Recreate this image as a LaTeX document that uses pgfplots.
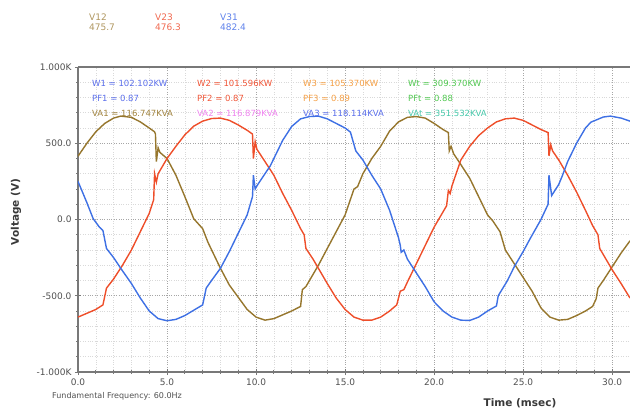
\documentclass[border=0pt]{standalone}
\usepackage{pgfplots}
\pgfplotsset{compat=1.18}
\usepackage{fontspec}
\setmainfont{DejaVu Sans}
\definecolor{cbrown}{RGB}{150,118,45}
\definecolor{cred}{RGB}{238,78,42}
\definecolor{cblue}{RGB}{62,112,228}
\definecolor{hbrown}{RGB}{175,150,95}
\definecolor{hred}{RGB}{240,105,80}
\definecolor{hblue}{RGB}{95,130,235}
\definecolor{lblue}{RGB}{90,110,235}
\definecolor{lred}{RGB}{240,85,55}
\definecolor{lorange}{RGB}{245,160,70}
\definecolor{lgreen}{RGB}{80,200,80}
\definecolor{lbrown}{RGB}{160,130,60}
\definecolor{lpink}{RGB}{240,130,240}
\definecolor{lteal}{RGB}{70,200,170}
\definecolor{axgray}{RGB}{120,120,120}
\definecolor{txgray}{RGB}{80,80,80}
\begin{document}
\begin{tikzpicture}
\useasboundingbox (-78bp,-39bp) rectangle (552bp,372bp);
\begin{axis}[
  at={(0,0)}, anchor=south west,
  scale only axis, width=552bp, height=305bp,
  xmin=0, xmax=31.0, ymin=-1000, ymax=1000,
  axis x line*=box, axis y line*=left,
  axis line style={axgray, line width=1.2bp},
  xtick={0,5,10,15,20,25,30},
  xticklabels={0.0,5.0,10.0,15.0,20.0,25.0,30.0},
  ytick={-1000,-500,0,500,1000},
  yticklabels={-1.000K,-500.0,0.0,500.0,1.000K},
  minor x tick num=4, minor y tick num=4,
  xtick pos=bottom, ytick pos=left,
  tick align=center,
  major tick length=6bp, minor tick length=3bp,
  every tick/.style={axgray, line width=0.8bp},
  grid=both,
  major grid style={dotted, gray!70, line width=0.6bp},
  minor grid style={dotted, gray!30, line width=0.5bp},
  tick label style={font=\fontsize{9bp}{11bp}\selectfont, text=txgray},
  /pgf/number format/assume math mode=true,
  clip=true,
]
\addplot[cbrown, line width=1.4bp] coordinates {
(0,415) (0.5,500) (1.0,575) (1.5,630) (2.0,665) (2.4,678) (3.0,670) (3.5,640)
(4.0,600) (4.3,575) (4.35,560) (4.4,380) (4.5,470) (4.6,440) (5.0,400) (5.5,290)
(6.0,150) (6.5,5) (7.0,-60) (7.3,-150) (8.0,-320) (8.5,-430) (9.0,-510) (9.5,-590)
(10.0,-640) (10.5,-660) (11.0,-650) (11.5,-625) (12.0,-600) (12.5,-570) (12.6,-460)
(12.8,-440) (13.0,-400) (13.5,-300) (14.0,-190) (14.5,-80) (15.0,30) (15.5,200)
(15.7,215) (16.0,300) (16.5,400) (17.0,480) (17.5,580) (18.0,640) (18.5,670)
(19.0,675) (19.5,665) (20.0,630) (20.5,590) (20.8,570) (20.85,450) (20.95,480)
(21.1,430) (21.5,360) (22.0,270) (22.5,150) (23.0,30) (23.3,-10) (23.7,-80)
(24.0,-200) (24.5,-290) (25.0,-380) (25.5,-470) (26.0,-580) (26.5,-640) (27.0,-660)
(27.5,-655) (28.0,-630) (28.5,-600) (28.9,-570) (29.1,-520) (29.2,-450) (29.5,-400)
(30.0,-310) (30.5,-220) (31.0,-140)
};
\addplot[cred, line width=1.4bp] coordinates {
(0,-640) (0.5,-615) (1.0,-590) (1.4,-560) (1.6,-450) (2.0,-390) (2.5,-300) (3.0,-200)
(3.5,-80) (4.0,40) (4.25,130) (4.3,300) (4.4,245) (4.5,300) (5.0,400) (5.5,480)
(6.0,555) (6.5,612) (7.0,645) (7.5,662) (8.0,665) (8.5,650) (9.0,620) (9.5,585)
(9.8,560) (9.85,400) (9.95,510) (10.05,460) (10.5,380) (11.0,290) (11.5,170)
(12.0,60) (12.5,-60) (12.7,-100) (12.8,-190) (13.2,-260) (13.5,-320) (14.0,-420)
(14.5,-515) (15.0,-590) (15.5,-640) (16.0,-660) (16.5,-660) (17.0,-640) (17.5,-600)
(17.9,-560) (18.1,-470) (18.3,-460) (18.5,-410) (19.0,-290) (19.5,-170) (20.0,-50)
(20.3,10) (20.7,90) (20.8,190) (20.9,170) (21.0,220) (21.5,390) (22.0,480)
(22.5,550) (23.0,600) (23.5,640) (24.0,660) (24.5,665) (25.0,650) (25.5,620)
(26.0,590) (26.4,570) (26.45,417) (26.55,490) (26.65,450) (27.0,390) (27.5,290)
(28.0,180) (28.5,60) (28.9,-40) (29.2,-100) (29.3,-190) (29.7,-270) (30.0,-330)
(30.5,-420) (31.0,-515)
};
\addplot[cblue, line width=1.4bp] coordinates {
(0,250) (0.5,110) (0.85,6) (1.2,-50) (1.4,-72) (1.6,-190) (2.0,-250) (2.4,-320)
(3.0,-420) (3.5,-515) (4.0,-600) (4.5,-650) (5.0,-664) (5.5,-655) (6.0,-630)
(6.5,-595) (7.0,-560) (7.2,-450) (7.5,-400) (8.0,-320) (8.5,-210) (9.0,-90)
(9.5,30) (9.8,150) (9.85,290) (9.95,200) (10.1,230) (10.5,300) (10.8,352)
(11.0,400) (11.5,520) (12.0,610) (12.5,660) (13.0,675) (13.5,678) (14.0,660)
(14.5,630) (15.0,600) (15.3,573) (15.6,450) (16.0,390) (16.5,290) (17.0,200)
(17.5,60) (18.0,-120) (18.1,-170) (18.15,-215) (18.3,-200) (18.5,-260) (19.0,-350)
(19.5,-440) (20.0,-540) (20.5,-600) (21.0,-640) (21.5,-660) (22.0,-662) (22.5,-640)
(23.0,-600) (23.5,-567) (23.6,-500) (24.1,-404) (24.5,-310) (25.0,-210) (25.4,-124)
(26.0,0) (26.4,100) (26.45,290) (26.6,157) (27.0,230) (27.2,287) (27.5,380)
(28.0,500) (28.5,600) (28.8,638) (29.5,672) (29.9,678) (30.5,665) (31.0,645)
};
\end{axis}
% header readings
\begin{scope}[every node/.style={font=\fontsize{9bp}{11bp}\selectfont, inner sep=0pt, anchor=base west}]
\node[text=hbrown] at (11bp,351bp) {V12};
\node[text=hbrown] at (11bp,341bp) {475.7};
\node[text=hred] at (77bp,351bp) {V23};
\node[text=hred] at (77bp,341bp) {476.3};
\node[text=hblue] at (142bp,351bp) {V31};
\node[text=hblue] at (142bp,341bp) {482.4};
\end{scope}
% in-plot readings
\begin{scope}[every node/.style={font=\fontsize{8.5bp}{10bp}\selectfont, inner sep=0pt, anchor=west}]
\node[text=lblue] at (14bp,289bp) {W1 = 102.102KW};
\node[text=lblue] at (14bp,274bp) {PF1 = 0.87};
\node[text=lbrown] at (14bp,259bp) {VA1 = 116.747KVA};
\node[text=lred] at (119bp,289bp) {W2 = 101.596KW};
\node[text=lred] at (119bp,274bp) {PF2 = 0.87};
\node[text=lpink] at (119bp,259bp) {VA2 = 116.879KVA};
\node[text=lorange] at (225bp,289bp) {W3 = 105.370KW};
\node[text=lorange] at (225bp,274bp) {PF3 = 0.89};
\node[text=lblue] at (225bp,259bp) {VA3 = 118.114KVA};
\node[text=lgreen] at (330bp,289bp) {Wt = 309.370KW};
\node[text=lgreen] at (330bp,274bp) {PFt = 0.88};
\node[text=lteal] at (330bp,259bp) {VAt = 351.532KVA};
\end{scope}
\node[font=\fontsize{8bp}{10bp}\selectfont, text=txgray, inner sep=0pt, anchor=west] at (-26bp,-24bp) {Fundamental Frequency: 60.0Hz};
\node[font=\fontsize{10.5bp}{12bp}\selectfont\bfseries, text=txgray!70!black, inner sep=0pt] at (442bp,-31bp) {Time (msec)};
\node[font=\fontsize{10.5bp}{12bp}\selectfont\bfseries, text=txgray!70!black, inner sep=0pt, rotate=90] at (-62bp,160bp) {Voltage (V)};
\end{tikzpicture}
\end{document}
